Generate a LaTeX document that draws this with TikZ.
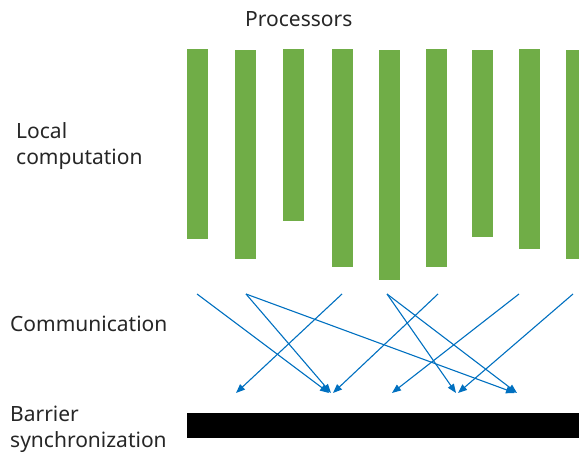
\documentclass[tikz,border=0pt]{standalone}
\usepackage{fontspec}
\setmainfont{Noto Sans}
\usetikzlibrary{arrows.meta}
\definecolor{G}{RGB}{112, 173, 71}
\definecolor{B}{RGB}{0, 112, 192}
\definecolor{T}{RGB}{38, 38, 38}
\tikzset{
  lbl/.style={anchor=base west, inner sep=0pt, align=left, text=T,
    font=\fontsize{21}{26}\selectfont},
  msg/.style={B, line width=1.1pt, -{Triangle[length=9pt,width=7pt]}}
}

\begin{document}
\begin{tikzpicture}[x=1pt,y=-1pt]
  \useasboundingbox (0,0) rectangle (579,454);
  % labels
  \node[lbl] (title) at (245,27) {Processors};
  \node[lbl] (local) at (16,165) {Local\\computation};
  \node[lbl] (comm) at (10,332) {Communication};
  \node[lbl] (barrier) at (10,448) {Barrier\\synchronization};
  % processors
  \fill[G] (187,49) rectangle (208,239);
  \fill[G] (235,50) rectangle (256,259);
  \fill[G] (283,49) rectangle (304,221);
  \fill[G] (332,49) rectangle (353,267);
  \fill[G] (379,50) rectangle (400,280);
  \fill[G] (426,49) rectangle (447,267);
  \fill[G] (472,50) rectangle (493,237);
  \fill[G] (519,49) rectangle (540,249);
  \fill[G] (566,50) rectangle (587,259);
  % barrier
  \fill[black] (187,413) rectangle (590,438);
  % communication
  \coordinate (from1) at (197,294);
  \coordinate (from2) at (246,294);
  \coordinate (from4) at (342,294);
  \coordinate (from5) at (387,294);
  \coordinate (from6) at (438,294);
  \coordinate (from8) at (519,294);
  \coordinate (from9) at (573,294);
  \coordinate (to1) at (236,393);
  \coordinate (to2a) at (329,393);
  \coordinate (to2b) at (331,393);
  \coordinate (to2c) at (333,393);
  \coordinate (to3) at (392,393);
  \coordinate (to4a) at (456,393);
  \coordinate (to4b) at (458,393);
  \coordinate (to5a) at (515,393);
  \coordinate (to5b) at (517,393);
  \draw[msg] (from1) -- (to2a);
  \draw[msg] (from2) -- (to2b);
  \draw[msg] (from2) -- (to5a);
  \draw[msg] (from4) -- (to1);
  \draw[msg] (from5) -- (to4a);
  \draw[msg] (from5) -- (to5b);
  \draw[msg] (from6) -- (to2c);
  \draw[msg] (from8) -- (to3);
  \draw[msg] (from9) -- (to4b);
\end{tikzpicture}
\end{document}
